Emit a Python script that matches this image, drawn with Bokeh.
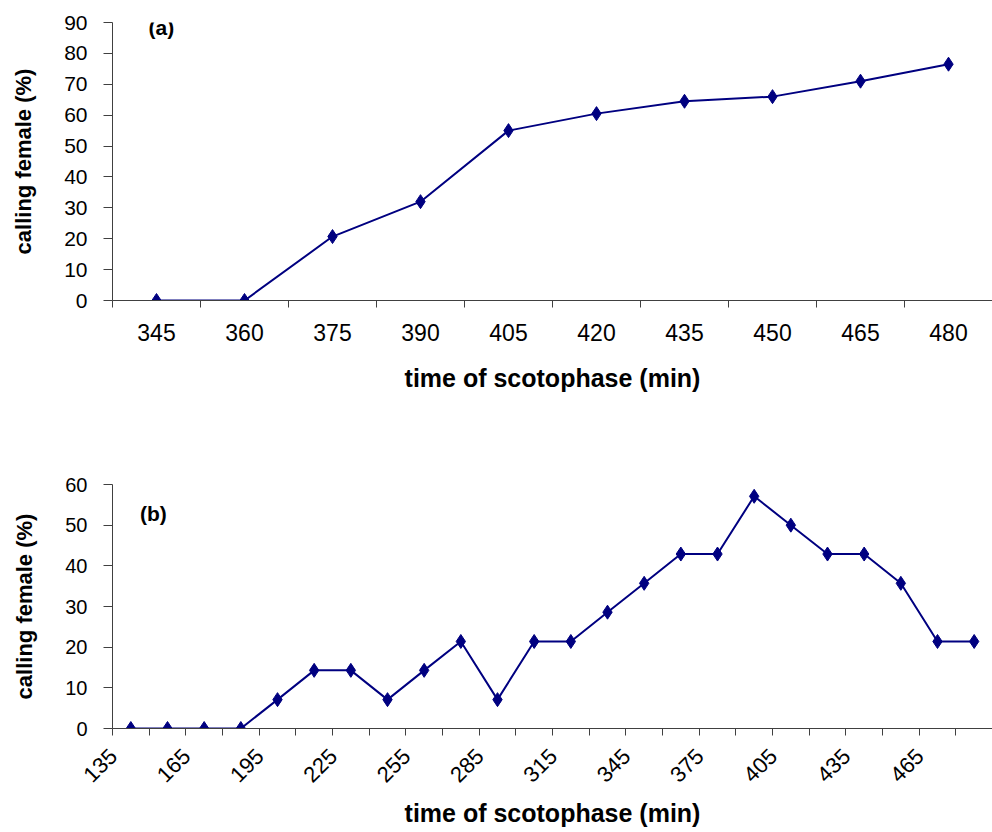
from math import pi
from bokeh.plotting import figure
from bokeh.models import Range1d, FixedTicker, LinearAxis, Label
from bokeh.layouts import column
from bokeh.embed import file_html
from bokeh.resources import INLINE

# ---- data -------------------------------------------------------------
times_a = [345, 360, 375, 390, 405, 420, 435, 450, 465, 480]
calling_a = [0, 0, 20.7, 32, 55, 60.5, 64.5, 66, 71, 76.5]
yticks_a = [0, 10, 20, 30, 40, 50, 60, 70, 80, 90]

times_b = [135, 150, 165, 180, 195, 210, 225, 240, 255, 270, 285, 300,
           315, 330, 345, 360, 375, 390, 405, 420, 435, 450, 465, 480]
calling_b = [0, 0, 0, 0, 7.1, 14.3, 14.3, 7.1, 14.3, 21.4, 7.1, 21.4,
             21.4, 28.6, 35.7, 42.9, 42.9, 57.1, 50, 42.9, 42.9, 35.7, 21.4, 21.4]
yticks_b = [0, 10, 20, 30, 40, 50, 60]

x_title = "time of scotophase (min)"
y_title = "calling female (%)"

FONT = "Liberation Sans"
NAVY = "#000080"
AXC = "#404040"


def panel(times, values, yticks, ymax, tag, tag_x, tag_y, width, height,
          b_top, b_left, b_bottom, label_every=1, label_shift=0.0,
          orient="horizontal", xfont="23px", yfont="21px",
          lab_standoff=16, title_standoff=20):
    n = len(times)
    idx = list(range(n))
    p = figure(width=width, height=height, output_backend="svg",
               toolbar_location=None, x_axis_location=None, y_axis_location=None,
               x_range=Range1d(-0.5, n - 0.5), y_range=Range1d(0, ymax),
               min_border_top=b_top, min_border_left=b_left,
               min_border_right=0, min_border_bottom=b_bottom)
    p.outline_line_color = None
    p.xgrid.visible = False
    p.ygrid.visible = False
    p.background_fill_color = "white"
    p.border_fill_color = "white"

    # category axis: labels on (invisible) major ticks, visible minor ticks
    # at the category boundaries
    shown = idx[::label_every]
    label_pos = [i + label_shift for i in shown]
    xaxis = LinearAxis(ticker=FixedTicker(ticks=label_pos,
                                          minor_ticks=[i - 0.5 for i in range(n + 1)]),
                       major_label_overrides={pos: str(times[i]) for pos, i in zip(label_pos, shown)},
                       major_tick_out=0, major_tick_in=0,
                       major_tick_line_color=None,
                       minor_tick_out=7, minor_tick_in=0,
                       minor_tick_line_color=AXC,
                       axis_line_color=AXC,
                       major_label_text_font=FONT,
                       major_label_text_font_size=xfont,
                       major_label_text_color="black",
                       major_label_standoff=lab_standoff,
                       major_label_orientation=orient,
                       axis_label=x_title,
                       axis_label_text_font=FONT,
                       axis_label_text_font_size="25px",
                       axis_label_text_font_style="bold",
                       axis_label_text_color="black",
                       axis_label_standoff=title_standoff)
    p.add_layout(xaxis, "below")

    yaxis = LinearAxis(ticker=FixedTicker(ticks=yticks, minor_ticks=[]),
                       major_tick_out=9, major_tick_in=0,
                       minor_tick_out=0, minor_tick_in=0,
                       axis_line_color=AXC, major_tick_line_color=AXC,
                       major_label_text_font=FONT,
                       major_label_text_font_size=yfont,
                       major_label_text_color="black",
                       major_label_standoff=16,
                       axis_label=y_title,
                       axis_label_text_font=FONT,
                       axis_label_text_font_size="22px",
                       axis_label_text_font_style="bold",
                       axis_label_text_color="black",
                       axis_label_standoff=25)
    p.add_layout(yaxis, "left")

    p.line(idx, values, line_width=2, color=NAVY)
    p.scatter(idx, values, marker="diamond", size=14, color=NAVY)

    p.add_layout(Label(x=tag_x, y=tag_y, text=tag, text_font=FONT,
                       text_font_size="21px", text_font_style="bold",
                       text_baseline="middle", text_align="left",
                       text_color="black"))
    return p


pa = panel(times_a, calling_a, yticks_a, 90, "(a)", -0.09, 88.3,
           width=992, height=448, b_top=22, b_left=112, b_bottom=148)
pb = panel(times_b, calling_b, yticks_b, 60, "(b)", 0.25, 52.9,
           width=992, height=382, b_top=36, b_left=110, b_bottom=101,
           label_every=2, label_shift=-0.48, orient=pi / 4,
           xfont="22px", yfont="20px", lab_standoff=17, title_standoff=7)

layout = column(pa, pb, spacing=0)
open("out.html", "w").write(file_html(layout, INLINE))
